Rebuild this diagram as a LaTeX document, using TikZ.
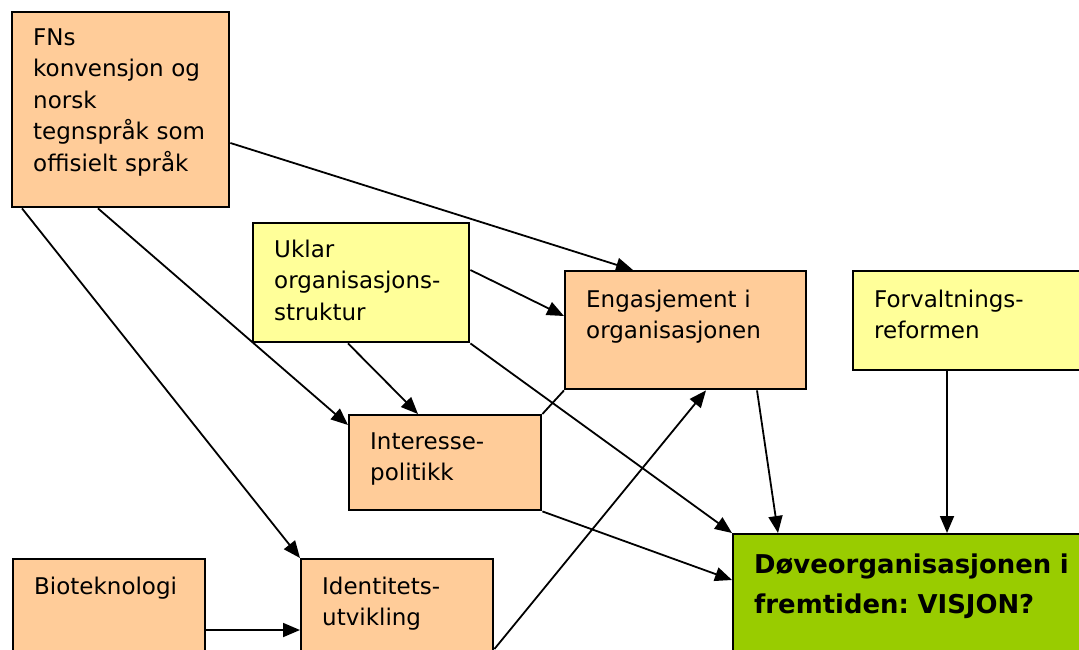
\documentclass[tikz,border=0pt]{standalone}
\usepackage{fontspec}
\setmainfont{DejaVu Sans}
\usepackage{xcolor}
\usetikzlibrary{arrows.meta}
\frenchspacing

\definecolor{oransje}{HTML}{FFCC99}
\definecolor{gul}{HTML}{FFFF99}
\definecolor{gronn}{HTML}{99CC00}

\begin{document}
\begin{tikzpicture}[x=1pt, y=-1pt,
    boks/.style={draw, line width=2.4pt, anchor=north west, inner xsep=21pt, inner ysep=0pt, align=left,
      font=\fontsize{23}{31.5}\selectfont},
    pil/.style={line width=1.8pt, -{Triangle[length=17pt, width=14pt]}}]
    \useasboundingbox (0,0) rectangle (1079,649);
    \clip (0,0) rectangle (1079,649);

    \node[boks, fill=oransje, text width=175pt, text height=33pt, text depth=162pt] (fns) at (11,11)
      {FNs\\konvensjon og\\norsk\\tegnspråk som\\offisielt språk};
    \node[boks, fill=gul, text width=174pt, text height=34pt, text depth=85pt] (uklar) at (252,222)
      {Uklar\\organisasjons-\\struktur};
    \node[boks, fill=oransje, text width=199pt, text height=36pt, text depth=82pt] (eng) at (564,270)
      {Engasjement i\\organisasjonen};
    \node[boks, fill=gul, text width=218pt, text height=36pt, text depth=63pt] (forv) at (852,270)
      {Forvaltnings-\\reformen};
    \node[boks, fill=oransje, text width=150pt, text height=34pt, text depth=61pt] (interesse) at (348,414)
      {Interesse-\\politikk};
    \node[boks, fill=oransje, text width=150pt, text height=35pt, text depth=85pt] (ident) at (300,558)
      {Identitets-\\utvikling};
    \node[boks, fill=oransje, text width=150pt, text height=35pt, text depth=85pt] (bio) at (12,558)
      {Bioteknologi};
    \node[boks, fill=gronn, text width=358pt, text height=39pt, text depth=111pt,
      font=\fontsize{25.9}{40}\selectfont\bfseries] (visjon) at (732,533)
      {Døveorganisasjonen i\\fremtiden: VISJON?};

    \draw[pil] ([yshift=-132pt]fns.north east) -- ([xshift=69pt]eng.north west);
    \draw[pil] ([xshift=87pt]fns.south west) -- ([yshift=-11pt]interesse.north west);
    \draw[pil] ([xshift=11pt]fns.south west) -- (ident.north west);
    \draw[pil] ([yshift=-48pt]uklar.north east) -- ([yshift=-46pt]eng.north west);
    \draw[pil] ([xshift=96pt]uklar.south west) -- ([xshift=70pt]interesse.north west);
    \draw[pil] (uklar.south east) -- (visjon.north west);
    \draw[line width=1.8pt] (interesse.north east) -- (eng.south west);
    \draw[pil] ([yshift=-91pt]ident.north east) -- ([xshift=142pt]eng.south west);
    \draw[pil] (interesse.south east) -- ([yshift=-47pt]visjon.north west);
    \draw[pil] ([xshift=193pt]eng.south west) -- ([xshift=46pt]visjon.north west);
    \draw[pil] ([xshift=95pt]forv.south west) -- ([xshift=215pt]visjon.north west);
    \draw[pil] ([yshift=-72pt]bio.north east) -- ([yshift=-72pt]ident.north west);
\end{tikzpicture}
\end{document}
